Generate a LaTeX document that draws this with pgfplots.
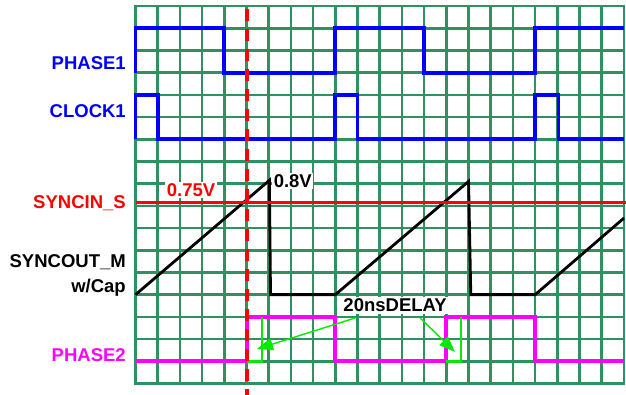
\documentclass[border=0pt]{standalone}
\usepackage{fontspec}
\setmainfont{Liberation Sans}
\usepackage{pgfplots}
\pgfplotsset{compat=1.18}
\usetikzlibrary{arrows.meta}
\definecolor{gridgreen}{RGB}{46,145,95}
\definecolor{arrgreen}{RGB}{0,235,0}
\definecolor{sigblue}{RGB}{0,0,255}
\definecolor{sigmag}{RGB}{255,0,255}
\definecolor{sigred}{RGB}{255,0,0}
\begin{document}
\begin{tikzpicture}[lbl/.style={inner sep=0pt, font=\fontsize{18.5bp}{21bp}\selectfont\bfseries}]
\begin{axis}[name=ax, x=22.2bp, y=22.2bp,
  xmin=0, xmax=22, ymin=0, ymax=17,
  xtick={0,...,22}, ytick={0,...,17},
  xticklabels={}, yticklabels={},
  major tick length=0pt,
  grid=major,
  grid style={gridgreen, line width=2.6bp},
  major grid style={gridgreen, line width=2.6bp},
  axis line style={gridgreen, line width=2.6bp},
  clip=false]
% PHASE1
\addplot[sigblue, line width=3.8bp, line join=miter] coordinates {
 (0,14) (0,16) (4,16) (4,14) (9,14) (9,16) (13,16) (13,14) (18,14) (18,16) (22,16)};
% CLOCK1
\addplot[sigblue, line width=3.8bp, line join=miter] coordinates {
 (0,11) (0,13) (1,13) (1,11) (9,11) (9,13) (10,13) (10,11) (18,11) (18,13) (19.05,13) (19.05,11) (22,11)};
% SYNCOUT_M ramp
\addplot[black, line width=2.8bp, line join=miter] coordinates {
 (0,4) (6.03,9.15) (6.08,4) (9,4) (15,9.1) (15.1,4) (18,4) (22,7.45)};
% SYNCIN_S level
\addplot[sigred, line width=3.5bp] coordinates {(0,8.15) (22.1,8.15)};
% PHASE2
\addplot[sigmag, line width=3.8bp, line join=miter] coordinates {
 (0,1) (5.02,1) (5.02,3) (9,3) (9,1) (14,1) (14,3) (18,3) (18,1) (22,1)};
% delay markers
\addplot[arrgreen, line width=2.6bp, line join=miter] coordinates {(5.02,1) (5.7,1) (5.7,3)};
\addplot[arrgreen, line width=2.6bp, line join=miter] coordinates {(14,1) (14.66,1) (14.66,3)};
% dashed marker
\addplot[sigred, line width=3.2bp, dash pattern=on 12bp off 8bp] coordinates {(5.02,16.85) (5.02,-0.55)};
% arrows
\draw[arrgreen, line width=1.4bp, -{Triangle[length=16bp,width=12bp]}] (axis cs:9.89,2.95) -- (axis cs:5.47,1.55);
\draw[arrgreen, line width=1.4bp, -{Triangle[length=16bp,width=12bp]}] (axis cs:12.82,2.95) -- (axis cs:14.39,1.42);
% labels
\node[lbl, anchor=base east, text=sigblue] at (axis cs:-0.43,14.14) {PHASE1};
\node[lbl, anchor=base east, text=sigblue] at (axis cs:-0.43,11.97) {CLOCK1};
\node[lbl, anchor=base east, text=sigred] at (axis cs:-0.43,7.88) {SYNCIN\_S};
\node[lbl, anchor=base east, text=black] at (axis cs:-0.43,5.22) {SYNCOUT\_M};
\node[lbl, anchor=base east, text=black] at (axis cs:-0.43,4.09) {w/Cap};
\node[lbl, anchor=base east, text=sigmag] at (axis cs:-0.43,0.98) {PHASE2};
\node[lbl, anchor=base, text=sigred, fill=white, inner sep=1.5bp] at (axis cs:2.5,8.42) {0.75V};
\node[lbl, anchor=base west, text=black, fill=white, inner sep=1.5bp] at (axis cs:6.15,8.82) {0.8V};
\node[lbl, anchor=base, text=black, fill=white, inner sep=2bp] at (axis cs:11.69,3.24) {20nsDELAY};
\end{axis}
\pgfresetboundingbox
\path ([xshift=-135.5bp,yshift=-11.5bp]ax.south west) rectangle ([xshift=2bp,yshift=6bp]ax.north east);
\end{tikzpicture}
\end{document}
